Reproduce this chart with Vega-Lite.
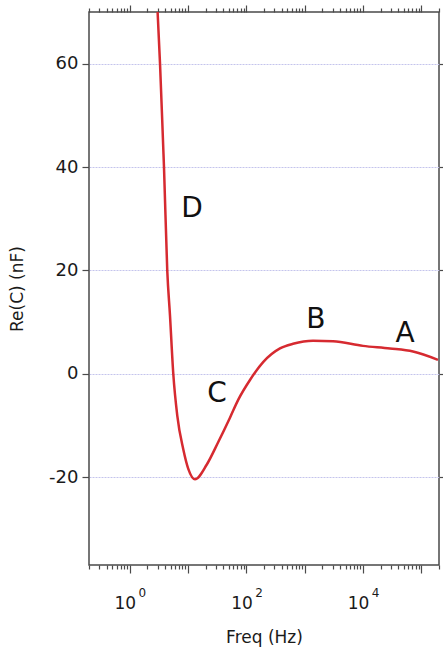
{
  "$schema": "https://vega.github.io/schema/vega-lite/v6.json",
  "width": 350,
  "height": 553,
  "autosize": "none",
  "padding": {"left": 89, "top": 12, "right": 4, "bottom": 85},
  "background": "white",
  "config": {
    "font": "DejaVu Sans",
    "view": {"stroke": "#4a4a4a", "strokeWidth": 1.5},
    "axis": {
      "domain": false,
      "tickColor": "#4a4a4a",
      "tickWidth": 1.2,
      "labelColor": "#1a1a1a",
      "labelFont": "DejaVu Sans",
      "titleColor": "#1a1a1a",
      "titleFont": "DejaVu Sans",
      "titleFontWeight": "normal",
      "labelOverlap": false,
      "labelBound": false,
      "labelFlush": false
    }
  },
  "datasets": {
    "curve": [
      {"freq": 3.0, "rec": 70.0},
      {"freq": 3.3, "rec": 60.0},
      {"freq": 3.75, "rec": 43.7},
      {"freq": 3.86, "rec": 40.0},
      {"freq": 4.39, "rec": 20.0},
      {"freq": 4.89, "rec": 11.3},
      {"freq": 5.57, "rec": 0.0},
      {"freq": 6.52, "rec": -8.1},
      {"freq": 8.26, "rec": -14.6},
      {"freq": 10.07, "rec": -18.4},
      {"freq": 13.1, "rec": -20.4},
      {"freq": 20.8, "rec": -17.6},
      {"freq": 32.9, "rec": -13.2},
      {"freq": 52.2, "rec": -8.5},
      {"freq": 72.5, "rec": -5.0},
      {"freq": 115, "rec": -1.2},
      {"freq": 195, "rec": 2.3},
      {"freq": 376, "rec": 4.9},
      {"freq": 629, "rec": 5.8},
      {"freq": 1384, "rec": 6.4},
      {"freq": 3048, "rec": 6.3},
      {"freq": 9960, "rec": 5.4},
      {"freq": 28900, "rec": 4.9},
      {"freq": 71700, "rec": 4.3},
      {"freq": 192000, "rec": 2.7}
    ],
    "regions": [
      {"freq": 11.7, "rec": 31.8, "label": "D"},
      {"freq": 31.3, "rec": -3.9, "label": "C"},
      {"freq": 1550, "rec": 10.5, "label": "B"},
      {"freq": 52300, "rec": 7.6, "label": "A"}
    ]
  },
  "layer": [
    {
      "data": {"name": "curve"},
      "mark": {"type": "line", "color": "#d62a30", "strokeWidth": 2.5, "interpolate": "monotone", "clip": true},
      "encoding": {
        "x": {
          "field": "freq",
          "type": "quantitative",
          "scale": {"type": "log", "domain": [0.2, 200000], "nice": false},
          "axis": {
            "orient": "bottom",
            "title": "Freq (Hz)",
            "titleFontSize": 17,
            "titlePadding": 18,
            "grid": false,
            "values": [0.2, 0.3, 0.4, 0.5, 0.6, 0.7, 0.8, 0.9, 1, 2, 3, 4, 5, 6, 7, 8, 9, 10, 20, 30, 40, 50, 60, 70, 80, 90, 100, 200, 300, 400, 500, 600, 700, 800, 900, 1000, 2000, 3000, 4000, 5000, 6000, 7000, 8000, 9000, 10000, 20000, 30000, 40000, 50000, 60000, 70000, 80000, 90000, 100000, 200000],
            "tickSize": {"condition": {"test": "abs(log(datum.value)/LN10 - round(log(datum.value)/LN10)) < 0.001", "value": 8}, "value": 4},
            "labelExpr": "datum.value == 1 || datum.value == 100 || datum.value == 10000 ? '10' : ''",
            "labelFontSize": 17,
            "labelPadding": 22,
            "labelOffset": -5
          }
        },
        "y": {
          "field": "rec",
          "type": "quantitative",
          "scale": {"domain": [-37, 70], "nice": false, "zero": false},
          "axis": {
            "orient": "left",
            "title": "Re(C) (nF)",
            "titleFontSize": 17,
            "titlePadding": 22,
            "values": [-20, 0, 20, 40, 60],
            "grid": true,
            "gridColor": "#c4c4ec",
            "gridDash": [2, 1],
            "gridWidth": 1,
            "tickSize": 7,
            "labelFontSize": 18,
            "labelPadding": 4,
            "labelExpr": "'' + datum.value"
          }
        }
      }
    },
    {
      "data": {"name": "regions"},
      "transform": [{"filter": "datum.label == 'D' || datum.label == 'C'"}],
      "mark": {"type": "text", "fontSize": 28, "font": "DejaVu Sans", "color": "#111111", "align": "center", "baseline": "middle"},
      "encoding": {
        "x": {
          "field": "freq",
          "type": "quantitative",
          "axis": {
            "orient": "top",
            "title": null,
            "grid": false,
            "labels": false,
            "values": [0.2, 0.3, 0.4, 0.5, 0.6, 0.7, 0.8, 0.9, 1, 2, 3, 4, 5, 6, 7, 8, 9, 10, 20, 30, 40, 50, 60, 70, 80, 90, 100, 200, 300, 400, 500, 600, 700, 800, 900, 1000, 2000, 3000, 4000, 5000, 6000, 7000, 8000, 9000, 10000, 20000, 30000, 40000, 50000, 60000, 70000, 80000, 90000, 100000, 200000],
            "tickSize": {"condition": {"test": "abs(log(datum.value)/LN10 - round(log(datum.value)/LN10)) < 0.001", "value": 7}, "value": 4}
          }
        },
        "y": {
          "field": "rec",
          "type": "quantitative",
          "axis": {
            "orient": "right",
            "title": null,
            "grid": false,
            "labels": false,
            "values": [-20, 0, 20, 40, 60],
            "tickSize": 4
          }
        },
        "text": {"field": "label"}
      }
    },
    {
      "data": {"name": "regions"},
      "transform": [{"filter": "datum.label == 'B' || datum.label == 'A'"}],
      "mark": {"type": "text", "fontSize": 28, "font": "DejaVu Sans", "color": "#111111", "align": "center", "baseline": "middle"},
      "encoding": {
        "x": {
          "field": "freq",
          "type": "quantitative",
          "axis": {
            "orient": "bottom",
            "title": null,
            "grid": false,
            "ticks": false,
            "tickSize": 0,
            "values": [1, 100, 10000],
            "labelExpr": "datum.value == 1 ? '0' : datum.value == 100 ? '2' : '4'",
            "labelFontSize": 12,
            "labelPadding": 22,
            "labelOffset": 12
          }
        },
        "y": {"field": "rec", "type": "quantitative", "axis": null},
        "text": {"field": "label"}
      }
    }
  ],
  "resolve": {"axis": {"x": "independent", "y": "independent"}}
}
